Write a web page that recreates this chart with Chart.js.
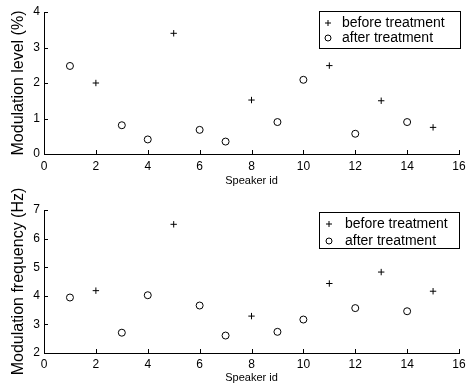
<!DOCTYPE html>
<html>
<head>
<meta charset="utf-8">
<script src="https://cdn.jsdelivr.net/npm/chart.js@4/dist/chart.umd.min.js"></script>
<style>
  body { margin: 0; background: #fff; }
  #wrap { position: relative; width: 466px; height: 383px; }
  canvas { position: absolute; left: 0; top: 0; }
</style>
</head>
<body>
<div id="wrap">
  <canvas id="levelChart" width="466" height="383"></canvas>
  <canvas id="freqChart" width="466" height="383"></canvas>
</div>
<script>
// speaker ids for each group
var beforeIds = [2, 5, 8, 11, 13, 15];
var afterIds = [1, 3, 4, 6, 7, 9, 10, 12, 14];

// modulation level (%)
var levelBefore = [2.0, 3.4, 1.52, 2.49, 1.5, 0.75];
var levelAfter = [2.48, 0.81, 0.41, 0.68, 0.35, 0.9, 2.09, 0.57, 0.9];

// modulation frequency (Hz)
var freqBefore = [4.18, 6.5, 3.29, 4.43, 4.83, 4.16];
var freqAfter = [3.94, 2.71, 4.02, 3.66, 2.61, 2.74, 3.17, 3.57, 3.46];

var seriesNames = ["before treatment", "after treatment"];

var FONT = "'Liberation Sans', Arial, sans-serif";

function points(ids, values) {
  var out = [];
  for (var i = 0; i < ids.length; i++) {
    out.push({x: ids[i], y: values[i]});
  }
  return out;
}

// matlab-like ticks pointing into the plot area
var innerTicks = {
  id: "innerTicks",
  afterDraw: function(chart) {
    var ctx = chart.ctx;
    var area = chart.chartArea;
    var xs = chart.scales.x, ys = chart.scales.y;
    ctx.save();
    ctx.strokeStyle = "#000";
    ctx.lineWidth = 1;
    ctx.beginPath();
    xs.ticks.forEach(function(t) {
      var px = Math.round(xs.getPixelForValue(t.value)) + 0.5;
      ctx.moveTo(px, area.bottom);
      ctx.lineTo(px, area.bottom - 4);
    });
    ys.ticks.forEach(function(t) {
      var py = Math.round(ys.getPixelForValue(t.value)) + 0.5;
      ctx.moveTo(area.left, py);
      ctx.lineTo(area.left + 4, py);
    });
    ctx.stroke();
    ctx.restore();
  }
};

// boxed legend drawn inside the top right corner
var boxLegend = {
  id: "boxLegend",
  afterDraw: function(chart, args, opts) {
    var ctx = chart.ctx;
    ctx.save();
    ctx.fillStyle = "#fff";
    ctx.fillRect(opts.left, opts.top, opts.width, opts.height);
    ctx.strokeStyle = "#000";
    ctx.lineWidth = 1;
    ctx.strokeRect(opts.left + 0.5, opts.top + 0.5, opts.width, opts.height);
    ctx.font = "14px " + FONT;
    ctx.fillStyle = "#000";
    ctx.textBaseline = "middle";
    for (var i = 0; i < seriesNames.length; i++) {
      var y = opts.top + opts.rowTop + i * opts.rowGap;
      var mx = opts.left + opts.markerX;
      ctx.beginPath();
      if (i === 0) {
        ctx.moveTo(mx - 3, y); ctx.lineTo(mx + 3, y);
        ctx.moveTo(mx, y - 3); ctx.lineTo(mx, y + 3);
      } else {
        ctx.arc(mx, y, 3, 0, Math.PI * 2);
      }
      ctx.stroke();
      ctx.fillText(seriesNames[i], opts.left + opts.textX, y);
    }
    ctx.restore();
  }
};

function makeChart(id, before, after, yMin, yMax, yTitle, pad, xHeight, legend, xTitlePad, xTickPad) {
  return new Chart(id, {
    type: "scatter",
    data: {
      datasets: [{
        label: seriesNames[0],
        data: points(beforeIds, before),
        pointStyle: "cross",
        pointRadius: 3.2,
        borderColor: "#000",
        borderWidth: 1,
        backgroundColor: "#000"
      }, {
        label: seriesNames[1],
        data: points(afterIds, after),
        pointStyle: "circle",
        pointRadius: 3.5,
        borderColor: "#000",
        borderWidth: 1,
        backgroundColor: "rgba(0,0,0,0)"
      }]
    },
    options: {
      responsive: false,
      animation: false,
      events: [],
      layout: {padding: pad},
      plugins: {
        legend: {display: false},
        tooltip: {enabled: false},
        boxLegend: legend
      },
      scales: {
        x: {
          type: "linear",
          min: 0, max: 16,
          ticks: {stepSize: 2, color: "#000", font: {family: FONT, size: 12}, padding: xTickPad, maxRotation: 0},
          grid: {display: false, drawTicks: false},
          border: {display: true, color: "#000", width: 1},
          title: {display: true, text: "Speaker id", color: "#000",
                  font: {family: FONT, size: 11, lineHeight: 1}, padding: {top: 0, bottom: xTitlePad}},
          afterFit: function(s) { s.height = xHeight; s.paddingLeft = 0; s.paddingRight = 0; }
        },
        y: {
          type: "linear",
          min: yMin, max: yMax,
          ticks: {stepSize: 1, color: "#000", font: {family: FONT, size: 12}, padding: 4},
          grid: {display: false, drawTicks: false},
          border: {display: true, color: "#000", width: 1},
          title: {display: true, text: yTitle, color: "#000",
                  font: {family: FONT, size: 16, lineHeight: 1}, padding: {top: 11, bottom: 0}},
          afterFit: function(s) { s.width = 44; s.paddingTop = 0; s.paddingBottom = 0; }
        }
      }
    },
    plugins: [innerTicks, boxLegend]
  });
}

makeChart("levelChart", levelBefore, levelAfter, 0, 4, "Modulation level (%)",
  {left: 0, top: 12, right: 7, bottom: 193}, 36,
  {left: 319, top: 11, width: 141, height: 37, rowTop: 12, rowGap: 15, markerX: 9, textX: 23}, 4, 5);

makeChart("freqChart", freqBefore, freqAfter, 2, 7, "Modulation frequency (Hz)",
  {left: 0, top: 210, right: 7, bottom: 0}, 30,
  {left: 319, top: 212, width: 140, height: 36, rowTop: 12, rowGap: 17, markerX: 10, textX: 26}, 0, 4);
</script>
</body>
</html>
